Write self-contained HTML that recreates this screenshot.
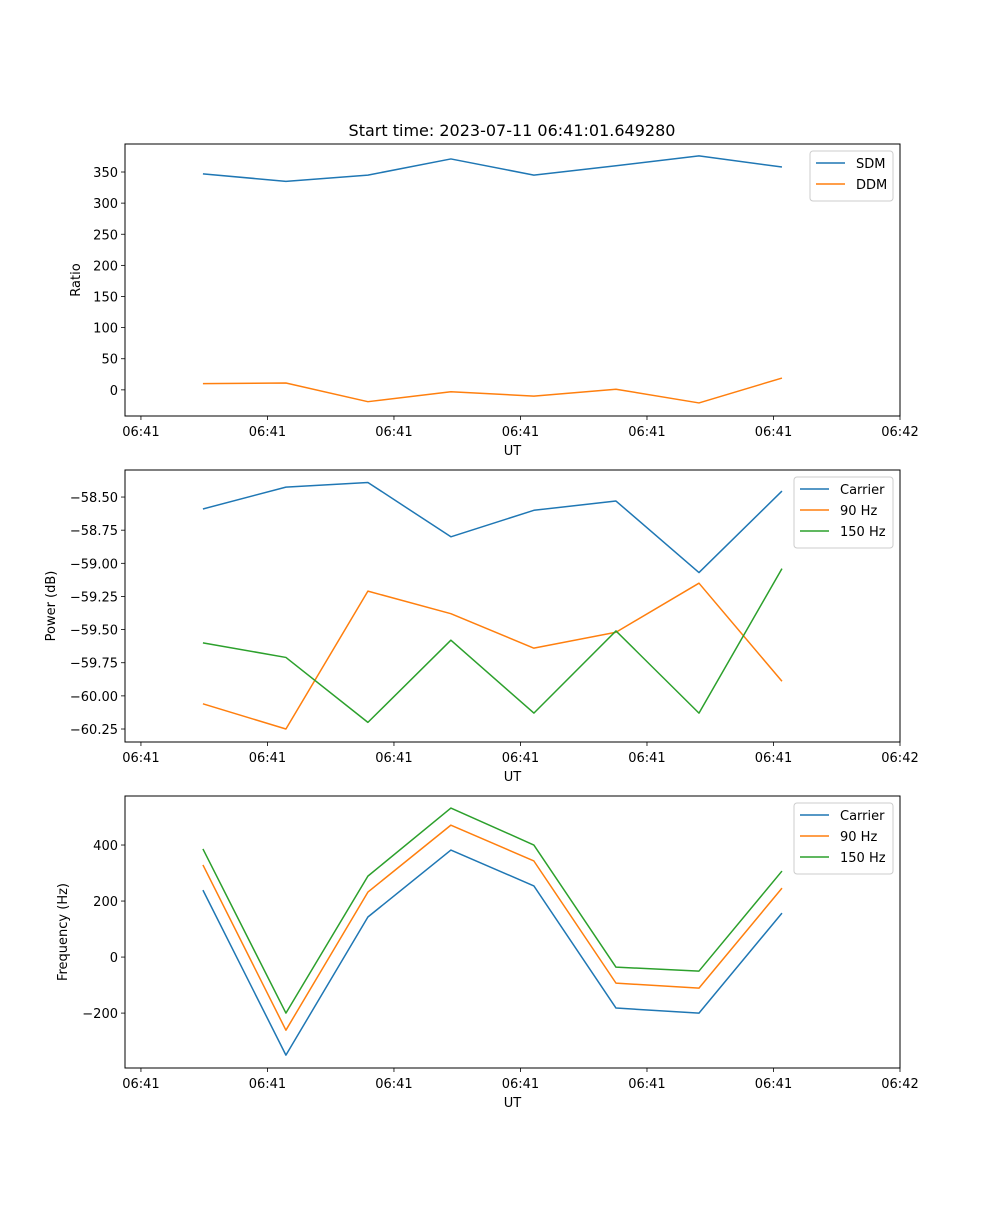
<!DOCTYPE html>
<html><head><meta charset="utf-8"><style>
html,body{margin:0;padding:0;background:#fff}
svg text{font-family:"DejaVu Sans","Liberation Sans",sans-serif;font-size:13px;fill:#000}
</style></head><body>
<svg id="fig" width="1000" height="1200" xmlns="http://www.w3.org/2000/svg">
<text x="512" y="136" text-anchor="middle" style="font-size:16px">Start time: 2023-07-11 06:41:01.649280</text>
</svg>
<script>
const times = [4.9, 11.46, 17.94, 24.5, 31.06, 37.55, 44.11, 50.67];
const xTicks = [0, 10, 20, 30, 40, 50, 60];
const xTickLabels = ["06:41","06:41","06:41","06:41","06:41","06:41","06:42"];
const sdm = [347, 335, 345, 371, 345, 360, 376, 358];
const ddm = [10, 11, -19, -3, -10, 1, -21, 19];
const powCarrier = [-58.59, -58.425, -58.39, -58.80, -58.60, -58.53, -59.07, -58.455];
const pow90 = [-60.06, -60.25, -59.21, -59.38, -59.64, -59.52, -59.15, -59.89];
const pow150 = [-59.60, -59.71, -60.20, -59.58, -60.13, -59.51, -60.13, -59.04];
const freqCarrier = [239, -350, 143, 382, 254, -182, -200, 157];
const freq90 = [329, -261, 232, 471, 343, -93, -111, 246];
const freq150 = [386, -200, 289, 532, 400, -36, -50, 307];
const ticks1 = [0, 50, 100, 150, 200, 250, 300, 350];
const ticks2 = [-60.25, -60.0, -59.75, -59.5, -59.25, -59.0, -58.75, -58.5];
const ticks3 = [-200, 0, 200, 400];

const NS = "http://www.w3.org/2000/svg";
const svg = document.getElementById('fig');
function el(tag, attrs, parent){const e=document.createElementNS(NS,tag);for(const k in attrs)e.setAttribute(k,attrs[k]);(parent||svg).appendChild(e);return e;}
const L=125,R=900,xmin=-1.26,xmax=60;
function xs(t){return L+(t-xmin)/(xmax-xmin)*(R-L);}

function panel(name, top, bot, ymin, ymax, yticks, fmt, ylabel, series, legend){
  const g=el('g',{});
  
  
  const ys=v=>bot-(v-ymin)/(ymax-ymin)*(bot-top);
  series.forEach(s=>{
    const p=el('polyline',{points:s.vals.map((v,i)=>xs(times[i])+','+ys(v)).join(' '),fill:'none',stroke:s.color,'stroke-width':1.5,'stroke-linejoin':'round'},g);
    
    
  });
  const fr=el('rect',{x:L,y:top,width:R-L,height:bot-top,fill:'none',stroke:'#000','stroke-width':1},g);
  
  
  xTicks.forEach((t,i)=>{
    const x=xs(t);
    el('line',{x1:x,y1:bot,x2:x,y2:bot+4,stroke:'#000','stroke-width':0.8},g);
    const tx=el('text',{x:x,y:bot+20,'text-anchor':'middle'},g);tx.textContent=xTickLabels[i];
    
    
  });
  yticks.forEach(v=>{
    const y=ys(v);
    el('line',{x1:L-4,y1:y,x2:L,y2:y,stroke:'#000','stroke-width':0.8},g);
    const tx=el('text',{x:L-7,y:y+5,'text-anchor':'end'},g);tx.textContent=fmt(v);
    
    
  });
  const xl=el('text',{x:(L+R)/2,y:bot+39,'text-anchor':'middle'},g);xl.textContent='UT';
  
  
  const ylx=legend.ylx;
  const yl=el('text',{x:ylx,y:(top+bot)/2,'text-anchor':'middle',transform:`rotate(-90 ${ylx} ${(top+bot)/2})`},g);yl.textContent=ylabel;
  
  
  const lg=el('g',{},g);
  
  
  el('rect',{x:legend.x,y:top+7,width:R-7-legend.x,height:series.length*21+8,rx:3,fill:'#fff','fill-opacity':0.8,stroke:'#ccc'},lg);
  series.forEach((s,i)=>{
    const y=top+19+i*21;
    el('line',{x1:legend.x+6,y1:y,x2:legend.x+35,y2:y,stroke:s.color,'stroke-width':1.5},lg);
    const t=el('text',{x:legend.x+46,y:y+5},lg);t.textContent=s.label;
    
    
  });
}
const C1='#1f77b4',C2='#ff7f0e',C3='#2ca02c';
panel('ratio-panel',144,416,-42,395,ticks1,v=>v<0?'\u2212'+(-v):String(v),'Ratio',
  [{id:'line-sdm',vals:sdm,color:C1,label:'SDM'},{id:'line-ddm',vals:ddm,color:C2,label:'DDM'}],{x:810,ylx:80});
panel('power-panel',470,742,-60.348,-58.296,ticks2,v=>'\u2212'+Math.abs(v).toFixed(2),'Power (dB)',
  [{id:'line-power-carrier',vals:powCarrier,color:C1,label:'Carrier'},{id:'line-power-90hz',vals:pow90,color:C2,label:'90 Hz'},{id:'line-power-150hz',vals:pow150,color:C3,label:'150 Hz'}],{x:794,ylx:55});
panel('frequency-panel',796,1068,-396,575,ticks3,v=>v<0?'\u2212'+(-v):String(v),'Frequency (Hz)',
  [{id:'line-freq-carrier',vals:freqCarrier,color:C1,label:'Carrier'},{id:'line-freq-90hz',vals:freq90,color:C2,label:'90 Hz'},{id:'line-freq-150hz',vals:freq150,color:C3,label:'150 Hz'}],{x:794,ylx:67});
</script>
</body></html>
